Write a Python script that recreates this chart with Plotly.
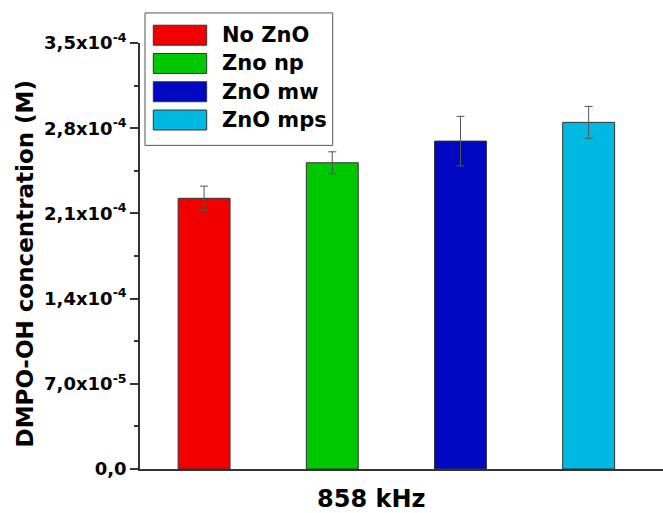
import plotly.graph_objects as go

# ---- data ----
categories = ["No ZnO", "Zno np", "ZnO mw", "ZnO mps"]
values = [2.224e-4, 2.516e-4, 2.694e-4, 2.848e-4]
errors = [1.0e-5, 0.9e-5, 2.03e-5, 1.31e-5]
colors = ["#F20000", "#00C800", "#0008C2", "#00B9E2"]
y_tickvals = [0, 7.0e-5, 1.4e-4, 2.1e-4, 2.8e-4, 3.5e-4]
y_ticktext = ["0,0", "7,0x10<sup>-5</sup>", "1,4x10<sup>-4</sup>", "2,1x10<sup>-4</sup>",
              "2,8x10<sup>-4</sup>", "3,5x10<sup>-4</sup>"]
x_title = "858 kHz"
y_title = "DMPO-OH concentration (M)"

W, H = 663, 513
L, R, T, B = 140, 0, 42.8, 43.7
PW, PH = W - L - R, H - T - B

def px(x):
    return (x - L) / PW

def py(y):
    return (H - B - y) / PH

FONT = "DejaVu Sans"

fig = go.Figure()
fig.add_trace(go.Bar(
    x=list(range(len(categories))), y=values, width=0.405,
    marker=dict(color=colors, line=dict(color="#333333", width=1)),
    error_y=dict(type="data", array=errors, color="#555555", thickness=1, width=4),
    showlegend=False,
))

shapes = []
annotations = []
# legend box
shapes.append(dict(type="rect", xref="paper", yref="paper",
                   x0=px(145), x1=px(332.7), y0=py(145.3), y1=py(12.7),
                   line=dict(color="#555555", width=1), fillcolor="white", layer="above"))
for i, (name, col) in enumerate(zip(categories, colors)):
    top = 25 + i * 28.3
    shapes.append(dict(type="rect", xref="paper", yref="paper",
                       x0=px(153.3), x1=px(206.7), y0=py(top + 20), y1=py(top),
                       line=dict(color="#333333", width=1), fillcolor=col, layer="above"))
    annotations.append(dict(xref="paper", yref="paper", x=px(219.5), y=py(top + 10),
                            xanchor="left", yanchor="middle", text=name, showarrow=False,
                            font=dict(family=FONT, size=21, color="black", weight="bold")))

annotations.append(dict(xref="paper", yref="paper", x=px(370.5), y=py(499.5),
                        xanchor="center", yanchor="middle", text=x_title, showarrow=False,
                        font=dict(family=FONT, size=24, color="black", weight="bold")))
annotations.append(dict(xref="paper", yref="paper", x=px(24.5), y=py(264),
                        xanchor="center", yanchor="middle", text=y_title, showarrow=False,
                        textangle=-90,
                        font=dict(family=FONT, size=23, color="black", weight="bold")))

fig.update_layout(
    width=W, height=H,
    margin=dict(l=L, r=R, t=T, b=B, pad=0),
    plot_bgcolor="white", paper_bgcolor="white",
    font=dict(family=FONT, color="black"),
    shapes=shapes, annotations=annotations,
    xaxis=dict(range=[-0.5, 3.58], showline=True, linecolor="#333333", linewidth=1.5,
               showticklabels=False, ticks="", showgrid=False, zeroline=False),
    yaxis=dict(range=[0, 3.5e-4], showline=True, linecolor="#333333", linewidth=1.5,
               tickmode="array", tickvals=y_tickvals, ticktext=y_ticktext,
               ticks="outside", ticklen=8, tickwidth=1.5, tickcolor="#333333",
               tickfont=dict(family=FONT, size=18, color="black", weight="bold"),
               minor=dict(ticks="outside", ticklen=4, dtick=3.5e-5, tick0=0,
                          tickcolor="#333333", tickwidth=1.5),
               showgrid=False, zeroline=False),
)

fig.write_html("out.html", config={"displayModeBar": False},
               post_script="document.body.style.margin='0';document.body.style.overflow='hidden';")
